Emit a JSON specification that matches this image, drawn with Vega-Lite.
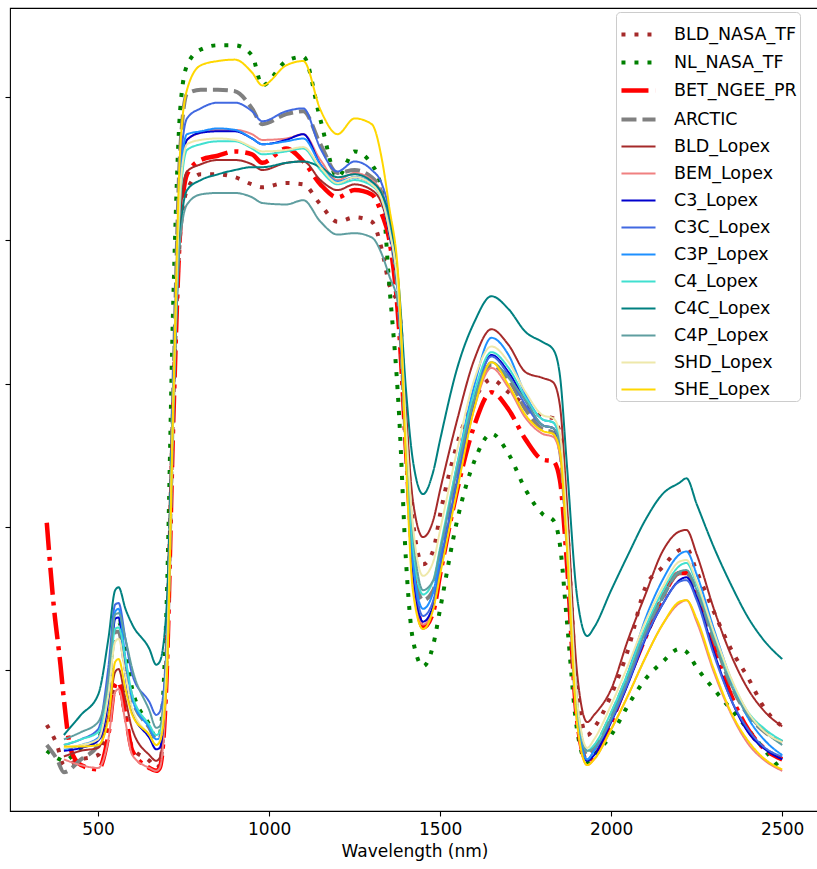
{
"$schema":"https://vega.github.io/schema/vega-lite/v6.json",
"width":809,"height":803,"autosize":"none",
"padding":{"left":10,"top":8,"right":0,"bottom":58},
"background":"white",
"config":{"font":"DejaVu Sans","view":{"stroke":"#000","strokeWidth":1.1},"axis":{"grid":false}},
"data":{"values":[
{"s":"BLD_NASA_TF","w":350,"r":0.062},{"s":"BLD_NASA_TF","w":380,"r":0.048},{"s":"BLD_NASA_TF","w":400,"r":0.034},{"s":"BLD_NASA_TF","w":450,"r":0.038},{"s":"BLD_NASA_TF","w":500,"r":0.041},{"s":"BLD_NASA_TF","w":530,"r":0.064},{"s":"BLD_NASA_TF","w":550,"r":0.087},{"s":"BLD_NASA_TF","w":560,"r":0.088},{"s":"BLD_NASA_TF","w":580,"r":0.069},{"s":"BLD_NASA_TF","w":600,"r":0.046},{"s":"BLD_NASA_TF","w":650,"r":0.037},{"s":"BLD_NASA_TF","w":670,"r":0.032},{"s":"BLD_NASA_TF","w":680,"r":0.034},{"s":"BLD_NASA_TF","w":700,"r":0.108},{"s":"BLD_NASA_TF","w":720,"r":0.289},{"s":"BLD_NASA_TF","w":740,"r":0.404},{"s":"BLD_NASA_TF","w":760,"r":0.435},{"s":"BLD_NASA_TF","w":800,"r":0.446},{"s":"BLD_NASA_TF","w":850,"r":0.446},{"s":"BLD_NASA_TF","w":900,"r":0.444},{"s":"BLD_NASA_TF","w":950,"r":0.439},{"s":"BLD_NASA_TF","w":980,"r":0.437},{"s":"BLD_NASA_TF","w":1050,"r":0.440},{"s":"BLD_NASA_TF","w":1100,"r":0.439},{"s":"BLD_NASA_TF","w":1150,"r":0.425},{"s":"BLD_NASA_TF","w":1200,"r":0.413},{"s":"BLD_NASA_TF","w":1250,"r":0.416},{"s":"BLD_NASA_TF","w":1300,"r":0.413},{"s":"BLD_NASA_TF","w":1330,"r":0.393},{"s":"BLD_NASA_TF","w":1350,"r":0.370},{"s":"BLD_NASA_TF","w":1380,"r":0.352},{"s":"BLD_NASA_TF","w":1400,"r":0.268},{"s":"BLD_NASA_TF","w":1420,"r":0.205},{"s":"BLD_NASA_TF","w":1450,"r":0.174},{"s":"BLD_NASA_TF","w":1480,"r":0.184},{"s":"BLD_NASA_TF","w":1500,"r":0.209},{"s":"BLD_NASA_TF","w":1550,"r":0.258},{"s":"BLD_NASA_TF","w":1600,"r":0.289},{"s":"BLD_NASA_TF","w":1650,"r":0.303},{"s":"BLD_NASA_TF","w":1700,"r":0.294},{"s":"BLD_NASA_TF","w":1750,"r":0.285},{"s":"BLD_NASA_TF","w":1800,"r":0.277},{"s":"BLD_NASA_TF","w":1830,"r":0.276},{"s":"BLD_NASA_TF","w":1850,"r":0.265},{"s":"BLD_NASA_TF","w":1870,"r":0.205},{"s":"BLD_NASA_TF","w":1900,"r":0.087},{"s":"BLD_NASA_TF","w":1930,"r":0.055},{"s":"BLD_NASA_TF","w":1950,"r":0.060},{"s":"BLD_NASA_TF","w":2000,"r":0.083},{"s":"BLD_NASA_TF","w":2050,"r":0.115},{"s":"BLD_NASA_TF","w":2100,"r":0.158},{"s":"BLD_NASA_TF","w":2150,"r":0.172},{"s":"BLD_NASA_TF","w":2200,"r":0.184},{"s":"BLD_NASA_TF","w":2220,"r":0.185},{"s":"BLD_NASA_TF","w":2250,"r":0.169},{"s":"BLD_NASA_TF","w":2300,"r":0.141},{"s":"BLD_NASA_TF","w":2350,"r":0.115},{"s":"BLD_NASA_TF","w":2400,"r":0.095},{"s":"BLD_NASA_TF","w":2450,"r":0.073},{"s":"BLD_NASA_TF","w":2500,"r":0.061},
{"s":"NL_NASA_TF","w":350,"r":0.044},{"s":"NL_NASA_TF","w":380,"r":0.039},{"s":"NL_NASA_TF","w":400,"r":0.037},{"s":"NL_NASA_TF","w":450,"r":0.046},{"s":"NL_NASA_TF","w":500,"r":0.052},{"s":"NL_NASA_TF","w":530,"r":0.087},{"s":"NL_NASA_TF","w":550,"r":0.132},{"s":"NL_NASA_TF","w":560,"r":0.134},{"s":"NL_NASA_TF","w":580,"r":0.113},{"s":"NL_NASA_TF","w":600,"r":0.087},{"s":"NL_NASA_TF","w":650,"r":0.062},{"s":"NL_NASA_TF","w":670,"r":0.053},{"s":"NL_NASA_TF","w":680,"r":0.055},{"s":"NL_NASA_TF","w":700,"r":0.143},{"s":"NL_NASA_TF","w":720,"r":0.359},{"s":"NL_NASA_TF","w":740,"r":0.491},{"s":"NL_NASA_TF","w":760,"r":0.522},{"s":"NL_NASA_TF","w":800,"r":0.533},{"s":"NL_NASA_TF","w":850,"r":0.536},{"s":"NL_NASA_TF","w":900,"r":0.536},{"s":"NL_NASA_TF","w":950,"r":0.529},{"s":"NL_NASA_TF","w":980,"r":0.508},{"s":"NL_NASA_TF","w":1050,"r":0.525},{"s":"NL_NASA_TF","w":1100,"r":0.528},{"s":"NL_NASA_TF","w":1150,"r":0.484},{"s":"NL_NASA_TF","w":1200,"r":0.444},{"s":"NL_NASA_TF","w":1250,"r":0.462},{"s":"NL_NASA_TF","w":1300,"r":0.453},{"s":"NL_NASA_TF","w":1330,"r":0.434},{"s":"NL_NASA_TF","w":1350,"r":0.373},{"s":"NL_NASA_TF","w":1380,"r":0.278},{"s":"NL_NASA_TF","w":1400,"r":0.177},{"s":"NL_NASA_TF","w":1420,"r":0.122},{"s":"NL_NASA_TF","w":1450,"r":0.103},{"s":"NL_NASA_TF","w":1480,"r":0.118},{"s":"NL_NASA_TF","w":1500,"r":0.143},{"s":"NL_NASA_TF","w":1550,"r":0.205},{"s":"NL_NASA_TF","w":1600,"r":0.246},{"s":"NL_NASA_TF","w":1650,"r":0.265},{"s":"NL_NASA_TF","w":1700,"r":0.251},{"s":"NL_NASA_TF","w":1750,"r":0.226},{"s":"NL_NASA_TF","w":1800,"r":0.209},{"s":"NL_NASA_TF","w":1830,"r":0.205},{"s":"NL_NASA_TF","w":1850,"r":0.188},{"s":"NL_NASA_TF","w":1870,"r":0.136},{"s":"NL_NASA_TF","w":1900,"r":0.059},{"s":"NL_NASA_TF","w":1930,"r":0.036},{"s":"NL_NASA_TF","w":1950,"r":0.041},{"s":"NL_NASA_TF","w":2000,"r":0.055},{"s":"NL_NASA_TF","w":2050,"r":0.076},{"s":"NL_NASA_TF","w":2100,"r":0.094},{"s":"NL_NASA_TF","w":2150,"r":0.106},{"s":"NL_NASA_TF","w":2200,"r":0.115},{"s":"NL_NASA_TF","w":2220,"r":0.113},{"s":"NL_NASA_TF","w":2250,"r":0.102},{"s":"NL_NASA_TF","w":2300,"r":0.087},{"s":"NL_NASA_TF","w":2350,"r":0.073},{"s":"NL_NASA_TF","w":2400,"r":0.059},{"s":"NL_NASA_TF","w":2450,"r":0.044},{"s":"NL_NASA_TF","w":2500,"r":0.030},
{"s":"BET_NGEE_PR","w":350,"r":0.203},{"s":"BET_NGEE_PR","w":370,"r":0.146},{"s":"BET_NGEE_PR","w":390,"r":0.104},{"s":"BET_NGEE_PR","w":400,"r":0.080},{"s":"BET_NGEE_PR","w":420,"r":0.045},{"s":"BET_NGEE_PR","w":450,"r":0.034},{"s":"BET_NGEE_PR","w":500,"r":0.031},{"s":"BET_NGEE_PR","w":530,"r":0.055},{"s":"BET_NGEE_PR","w":550,"r":0.090},{"s":"BET_NGEE_PR","w":560,"r":0.092},{"s":"BET_NGEE_PR","w":580,"r":0.069},{"s":"BET_NGEE_PR","w":600,"r":0.044},{"s":"BET_NGEE_PR","w":650,"r":0.032},{"s":"BET_NGEE_PR","w":670,"r":0.030},{"s":"BET_NGEE_PR","w":680,"r":0.032},{"s":"BET_NGEE_PR","w":700,"r":0.094},{"s":"BET_NGEE_PR","w":720,"r":0.275},{"s":"BET_NGEE_PR","w":740,"r":0.407},{"s":"BET_NGEE_PR","w":760,"r":0.446},{"s":"BET_NGEE_PR","w":800,"r":0.456},{"s":"BET_NGEE_PR","w":850,"r":0.459},{"s":"BET_NGEE_PR","w":900,"r":0.462},{"s":"BET_NGEE_PR","w":950,"r":0.460},{"s":"BET_NGEE_PR","w":980,"r":0.454},{"s":"BET_NGEE_PR","w":1050,"r":0.464},{"s":"BET_NGEE_PR","w":1100,"r":0.455},{"s":"BET_NGEE_PR","w":1150,"r":0.439},{"s":"BET_NGEE_PR","w":1200,"r":0.430},{"s":"BET_NGEE_PR","w":1250,"r":0.435},{"s":"BET_NGEE_PR","w":1300,"r":0.432},{"s":"BET_NGEE_PR","w":1330,"r":0.418},{"s":"BET_NGEE_PR","w":1350,"r":0.402},{"s":"BET_NGEE_PR","w":1380,"r":0.338},{"s":"BET_NGEE_PR","w":1400,"r":0.254},{"s":"BET_NGEE_PR","w":1420,"r":0.177},{"s":"BET_NGEE_PR","w":1450,"r":0.130},{"s":"BET_NGEE_PR","w":1480,"r":0.141},{"s":"BET_NGEE_PR","w":1500,"r":0.167},{"s":"BET_NGEE_PR","w":1550,"r":0.226},{"s":"BET_NGEE_PR","w":1600,"r":0.271},{"s":"BET_NGEE_PR","w":1650,"r":0.294},{"s":"BET_NGEE_PR","w":1700,"r":0.282},{"s":"BET_NGEE_PR","w":1750,"r":0.261},{"s":"BET_NGEE_PR","w":1800,"r":0.247},{"s":"BET_NGEE_PR","w":1830,"r":0.246},{"s":"BET_NGEE_PR","w":1850,"r":0.233},{"s":"BET_NGEE_PR","w":1870,"r":0.177},{"s":"BET_NGEE_PR","w":1900,"r":0.066},{"s":"BET_NGEE_PR","w":1930,"r":0.037},{"s":"BET_NGEE_PR","w":1950,"r":0.040},{"s":"BET_NGEE_PR","w":2000,"r":0.064},{"s":"BET_NGEE_PR","w":2050,"r":0.094},{"s":"BET_NGEE_PR","w":2100,"r":0.123},{"s":"BET_NGEE_PR","w":2150,"r":0.151},{"s":"BET_NGEE_PR","w":2200,"r":0.168},{"s":"BET_NGEE_PR","w":2220,"r":0.168},{"s":"BET_NGEE_PR","w":2250,"r":0.153},{"s":"BET_NGEE_PR","w":2300,"r":0.118},{"s":"BET_NGEE_PR","w":2350,"r":0.083},{"s":"BET_NGEE_PR","w":2400,"r":0.059},{"s":"BET_NGEE_PR","w":2450,"r":0.045},{"s":"BET_NGEE_PR","w":2500,"r":0.038},
{"s":"ARCTIC","w":350,"r":0.048},{"s":"ARCTIC","w":380,"r":0.038},{"s":"ARCTIC","w":400,"r":0.029},{"s":"ARCTIC","w":450,"r":0.038},{"s":"ARCTIC","w":500,"r":0.048},{"s":"ARCTIC","w":530,"r":0.087},{"s":"ARCTIC","w":550,"r":0.127},{"s":"ARCTIC","w":560,"r":0.127},{"s":"ARCTIC","w":580,"r":0.102},{"s":"ARCTIC","w":600,"r":0.080},{"s":"ARCTIC","w":650,"r":0.060},{"s":"ARCTIC","w":670,"r":0.052},{"s":"ARCTIC","w":680,"r":0.053},{"s":"ARCTIC","w":700,"r":0.108},{"s":"ARCTIC","w":720,"r":0.296},{"s":"ARCTIC","w":740,"r":0.463},{"s":"ARCTIC","w":760,"r":0.502},{"s":"ARCTIC","w":800,"r":0.505},{"s":"ARCTIC","w":850,"r":0.505},{"s":"ARCTIC","w":900,"r":0.504},{"s":"ARCTIC","w":950,"r":0.492},{"s":"ARCTIC","w":980,"r":0.481},{"s":"ARCTIC","w":1050,"r":0.488},{"s":"ARCTIC","w":1100,"r":0.490},{"s":"ARCTIC","w":1150,"r":0.467},{"s":"ARCTIC","w":1200,"r":0.447},{"s":"ARCTIC","w":1250,"r":0.449},{"s":"ARCTIC","w":1300,"r":0.444},{"s":"ARCTIC","w":1330,"r":0.432},{"s":"ARCTIC","w":1350,"r":0.409},{"s":"ARCTIC","w":1380,"r":0.352},{"s":"ARCTIC","w":1400,"r":0.258},{"s":"ARCTIC","w":1420,"r":0.177},{"s":"ARCTIC","w":1450,"r":0.149},{"s":"ARCTIC","w":1480,"r":0.156},{"s":"ARCTIC","w":1500,"r":0.177},{"s":"ARCTIC","w":1550,"r":0.235},{"s":"ARCTIC","w":1600,"r":0.288},{"s":"ARCTIC","w":1650,"r":0.313},{"s":"ARCTIC","w":1700,"r":0.303},{"s":"ARCTIC","w":1750,"r":0.282},{"s":"ARCTIC","w":1800,"r":0.268},{"s":"ARCTIC","w":1830,"r":0.266},{"s":"ARCTIC","w":1850,"r":0.254},{"s":"ARCTIC","w":1870,"r":0.195},{"s":"ARCTIC","w":1900,"r":0.071},{"s":"ARCTIC","w":1930,"r":0.041},{"s":"ARCTIC","w":1950,"r":0.046},{"s":"ARCTIC","w":2000,"r":0.069},{"s":"ARCTIC","w":2050,"r":0.097},{"s":"ARCTIC","w":2100,"r":0.127},{"s":"ARCTIC","w":2150,"r":0.151},{"s":"ARCTIC","w":2200,"r":0.168},{"s":"ARCTIC","w":2220,"r":0.168},{"s":"ARCTIC","w":2250,"r":0.154},{"s":"ARCTIC","w":2300,"r":0.122},{"s":"ARCTIC","w":2350,"r":0.090},{"s":"ARCTIC","w":2400,"r":0.069},{"s":"ARCTIC","w":2450,"r":0.057},{"s":"ARCTIC","w":2500,"r":0.050},
{"s":"BLD_Lopex","w":400,"r":0.040},{"s":"BLD_Lopex","w":450,"r":0.044},{"s":"BLD_Lopex","w":500,"r":0.046},{"s":"BLD_Lopex","w":530,"r":0.069},{"s":"BLD_Lopex","w":550,"r":0.099},{"s":"BLD_Lopex","w":560,"r":0.101},{"s":"BLD_Lopex","w":580,"r":0.080},{"s":"BLD_Lopex","w":600,"r":0.059},{"s":"BLD_Lopex","w":650,"r":0.041},{"s":"BLD_Lopex","w":670,"r":0.037},{"s":"BLD_Lopex","w":680,"r":0.039},{"s":"BLD_Lopex","w":700,"r":0.097},{"s":"BLD_Lopex","w":720,"r":0.282},{"s":"BLD_Lopex","w":740,"r":0.414},{"s":"BLD_Lopex","w":760,"r":0.448},{"s":"BLD_Lopex","w":800,"r":0.453},{"s":"BLD_Lopex","w":850,"r":0.456},{"s":"BLD_Lopex","w":900,"r":0.456},{"s":"BLD_Lopex","w":950,"r":0.453},{"s":"BLD_Lopex","w":980,"r":0.449},{"s":"BLD_Lopex","w":1050,"r":0.454},{"s":"BLD_Lopex","w":1100,"r":0.455},{"s":"BLD_Lopex","w":1150,"r":0.442},{"s":"BLD_Lopex","w":1200,"r":0.435},{"s":"BLD_Lopex","w":1250,"r":0.439},{"s":"BLD_Lopex","w":1300,"r":0.435},{"s":"BLD_Lopex","w":1330,"r":0.425},{"s":"BLD_Lopex","w":1350,"r":0.407},{"s":"BLD_Lopex","w":1380,"r":0.359},{"s":"BLD_Lopex","w":1400,"r":0.282},{"s":"BLD_Lopex","w":1420,"r":0.219},{"s":"BLD_Lopex","w":1450,"r":0.193},{"s":"BLD_Lopex","w":1480,"r":0.205},{"s":"BLD_Lopex","w":1500,"r":0.226},{"s":"BLD_Lopex","w":1550,"r":0.275},{"s":"BLD_Lopex","w":1600,"r":0.317},{"s":"BLD_Lopex","w":1650,"r":0.338},{"s":"BLD_Lopex","w":1700,"r":0.327},{"s":"BLD_Lopex","w":1750,"r":0.308},{"s":"BLD_Lopex","w":1800,"r":0.304},{"s":"BLD_Lopex","w":1830,"r":0.301},{"s":"BLD_Lopex","w":1850,"r":0.285},{"s":"BLD_Lopex","w":1870,"r":0.219},{"s":"BLD_Lopex","w":1900,"r":0.099},{"s":"BLD_Lopex","w":1930,"r":0.064},{"s":"BLD_Lopex","w":1950,"r":0.069},{"s":"BLD_Lopex","w":2000,"r":0.087},{"s":"BLD_Lopex","w":2050,"r":0.122},{"s":"BLD_Lopex","w":2100,"r":0.153},{"s":"BLD_Lopex","w":2150,"r":0.183},{"s":"BLD_Lopex","w":2200,"r":0.197},{"s":"BLD_Lopex","w":2220,"r":0.198},{"s":"BLD_Lopex","w":2250,"r":0.181},{"s":"BLD_Lopex","w":2300,"r":0.143},{"s":"BLD_Lopex","w":2350,"r":0.111},{"s":"BLD_Lopex","w":2400,"r":0.087},{"s":"BLD_Lopex","w":2450,"r":0.071},{"s":"BLD_Lopex","w":2500,"r":0.061},
{"s":"BEM_Lopex","w":400,"r":0.038},{"s":"BEM_Lopex","w":450,"r":0.034},{"s":"BEM_Lopex","w":500,"r":0.032},{"s":"BEM_Lopex","w":530,"r":0.052},{"s":"BEM_Lopex","w":550,"r":0.085},{"s":"BEM_Lopex","w":560,"r":0.087},{"s":"BEM_Lopex","w":580,"r":0.064},{"s":"BEM_Lopex","w":600,"r":0.041},{"s":"BEM_Lopex","w":650,"r":0.032},{"s":"BEM_Lopex","w":670,"r":0.030},{"s":"BEM_Lopex","w":680,"r":0.032},{"s":"BEM_Lopex","w":700,"r":0.092},{"s":"BEM_Lopex","w":720,"r":0.281},{"s":"BEM_Lopex","w":740,"r":0.428},{"s":"BEM_Lopex","w":760,"r":0.470},{"s":"BEM_Lopex","w":800,"r":0.475},{"s":"BEM_Lopex","w":850,"r":0.477},{"s":"BEM_Lopex","w":900,"r":0.477},{"s":"BEM_Lopex","w":950,"r":0.474},{"s":"BEM_Lopex","w":980,"r":0.470},{"s":"BEM_Lopex","w":1050,"r":0.471},{"s":"BEM_Lopex","w":1100,"r":0.474},{"s":"BEM_Lopex","w":1150,"r":0.456},{"s":"BEM_Lopex","w":1200,"r":0.442},{"s":"BEM_Lopex","w":1250,"r":0.447},{"s":"BEM_Lopex","w":1300,"r":0.442},{"s":"BEM_Lopex","w":1330,"r":0.432},{"s":"BEM_Lopex","w":1350,"r":0.411},{"s":"BEM_Lopex","w":1380,"r":0.355},{"s":"BEM_Lopex","w":1400,"r":0.254},{"s":"BEM_Lopex","w":1420,"r":0.167},{"s":"BEM_Lopex","w":1450,"r":0.132},{"s":"BEM_Lopex","w":1480,"r":0.144},{"s":"BEM_Lopex","w":1500,"r":0.169},{"s":"BEM_Lopex","w":1550,"r":0.228},{"s":"BEM_Lopex","w":1600,"r":0.283},{"s":"BEM_Lopex","w":1650,"r":0.311},{"s":"BEM_Lopex","w":1700,"r":0.297},{"s":"BEM_Lopex","w":1750,"r":0.276},{"s":"BEM_Lopex","w":1800,"r":0.265},{"s":"BEM_Lopex","w":1830,"r":0.263},{"s":"BEM_Lopex","w":1850,"r":0.251},{"s":"BEM_Lopex","w":1870,"r":0.188},{"s":"BEM_Lopex","w":1900,"r":0.064},{"s":"BEM_Lopex","w":1930,"r":0.034},{"s":"BEM_Lopex","w":1950,"r":0.038},{"s":"BEM_Lopex","w":2000,"r":0.059},{"s":"BEM_Lopex","w":2050,"r":0.083},{"s":"BEM_Lopex","w":2100,"r":0.109},{"s":"BEM_Lopex","w":2150,"r":0.132},{"s":"BEM_Lopex","w":2200,"r":0.147},{"s":"BEM_Lopex","w":2220,"r":0.149},{"s":"BEM_Lopex","w":2250,"r":0.134},{"s":"BEM_Lopex","w":2300,"r":0.099},{"s":"BEM_Lopex","w":2350,"r":0.070},{"s":"BEM_Lopex","w":2400,"r":0.049},{"s":"BEM_Lopex","w":2450,"r":0.037},{"s":"BEM_Lopex","w":2500,"r":0.030},
{"s":"C3_Lopex","w":400,"r":0.044},{"s":"C3_Lopex","w":450,"r":0.046},{"s":"C3_Lopex","w":500,"r":0.051},{"s":"C3_Lopex","w":530,"r":0.080},{"s":"C3_Lopex","w":550,"r":0.136},{"s":"C3_Lopex","w":560,"r":0.137},{"s":"C3_Lopex","w":580,"r":0.097},{"s":"C3_Lopex","w":600,"r":0.071},{"s":"C3_Lopex","w":650,"r":0.053},{"s":"C3_Lopex","w":670,"r":0.045},{"s":"C3_Lopex","w":680,"r":0.046},{"s":"C3_Lopex","w":700,"r":0.099},{"s":"C3_Lopex","w":720,"r":0.289},{"s":"C3_Lopex","w":740,"r":0.435},{"s":"C3_Lopex","w":760,"r":0.470},{"s":"C3_Lopex","w":800,"r":0.475},{"s":"C3_Lopex","w":850,"r":0.476},{"s":"C3_Lopex","w":900,"r":0.476},{"s":"C3_Lopex","w":950,"r":0.471},{"s":"C3_Lopex","w":980,"r":0.467},{"s":"C3_Lopex","w":1050,"r":0.470},{"s":"C3_Lopex","w":1100,"r":0.474},{"s":"C3_Lopex","w":1150,"r":0.453},{"s":"C3_Lopex","w":1200,"r":0.440},{"s":"C3_Lopex","w":1250,"r":0.444},{"s":"C3_Lopex","w":1300,"r":0.439},{"s":"C3_Lopex","w":1330,"r":0.428},{"s":"C3_Lopex","w":1350,"r":0.407},{"s":"C3_Lopex","w":1380,"r":0.353},{"s":"C3_Lopex","w":1400,"r":0.258},{"s":"C3_Lopex","w":1420,"r":0.172},{"s":"C3_Lopex","w":1450,"r":0.134},{"s":"C3_Lopex","w":1480,"r":0.146},{"s":"C3_Lopex","w":1500,"r":0.172},{"s":"C3_Lopex","w":1550,"r":0.232},{"s":"C3_Lopex","w":1600,"r":0.288},{"s":"C3_Lopex","w":1650,"r":0.320},{"s":"C3_Lopex","w":1700,"r":0.308},{"s":"C3_Lopex","w":1750,"r":0.288},{"s":"C3_Lopex","w":1800,"r":0.271},{"s":"C3_Lopex","w":1830,"r":0.269},{"s":"C3_Lopex","w":1850,"r":0.256},{"s":"C3_Lopex","w":1870,"r":0.195},{"s":"C3_Lopex","w":1900,"r":0.069},{"s":"C3_Lopex","w":1930,"r":0.037},{"s":"C3_Lopex","w":1950,"r":0.041},{"s":"C3_Lopex","w":2000,"r":0.064},{"s":"C3_Lopex","w":2050,"r":0.091},{"s":"C3_Lopex","w":2100,"r":0.122},{"s":"C3_Lopex","w":2150,"r":0.146},{"s":"C3_Lopex","w":2200,"r":0.163},{"s":"C3_Lopex","w":2220,"r":0.165},{"s":"C3_Lopex","w":2250,"r":0.151},{"s":"C3_Lopex","w":2300,"r":0.113},{"s":"C3_Lopex","w":2350,"r":0.080},{"s":"C3_Lopex","w":2400,"r":0.057},{"s":"C3_Lopex","w":2450,"r":0.045},{"s":"C3_Lopex","w":2500,"r":0.038},
{"s":"C3C_Lopex","w":400,"r":0.048},{"s":"C3C_Lopex","w":450,"r":0.052},{"s":"C3C_Lopex","w":500,"r":0.059},{"s":"C3C_Lopex","w":530,"r":0.102},{"s":"C3C_Lopex","w":550,"r":0.146},{"s":"C3C_Lopex","w":560,"r":0.147},{"s":"C3C_Lopex","w":580,"r":0.122},{"s":"C3C_Lopex","w":600,"r":0.097},{"s":"C3C_Lopex","w":650,"r":0.078},{"s":"C3C_Lopex","w":670,"r":0.069},{"s":"C3C_Lopex","w":680,"r":0.071},{"s":"C3C_Lopex","w":700,"r":0.111},{"s":"C3C_Lopex","w":720,"r":0.300},{"s":"C3C_Lopex","w":740,"r":0.449},{"s":"C3C_Lopex","w":760,"r":0.485},{"s":"C3C_Lopex","w":800,"r":0.492},{"s":"C3C_Lopex","w":850,"r":0.496},{"s":"C3C_Lopex","w":900,"r":0.496},{"s":"C3C_Lopex","w":950,"r":0.490},{"s":"C3C_Lopex","w":980,"r":0.483},{"s":"C3C_Lopex","w":1050,"r":0.490},{"s":"C3C_Lopex","w":1100,"r":0.492},{"s":"C3C_Lopex","w":1150,"r":0.464},{"s":"C3C_Lopex","w":1200,"r":0.448},{"s":"C3C_Lopex","w":1250,"r":0.455},{"s":"C3C_Lopex","w":1300,"r":0.449},{"s":"C3C_Lopex","w":1330,"r":0.439},{"s":"C3C_Lopex","w":1350,"r":0.421},{"s":"C3C_Lopex","w":1380,"r":0.355},{"s":"C3C_Lopex","w":1400,"r":0.261},{"s":"C3C_Lopex","w":1420,"r":0.177},{"s":"C3C_Lopex","w":1450,"r":0.138},{"s":"C3C_Lopex","w":1480,"r":0.149},{"s":"C3C_Lopex","w":1500,"r":0.174},{"s":"C3C_Lopex","w":1550,"r":0.233},{"s":"C3C_Lopex","w":1600,"r":0.289},{"s":"C3C_Lopex","w":1650,"r":0.319},{"s":"C3C_Lopex","w":1700,"r":0.306},{"s":"C3C_Lopex","w":1750,"r":0.285},{"s":"C3C_Lopex","w":1800,"r":0.271},{"s":"C3C_Lopex","w":1830,"r":0.269},{"s":"C3C_Lopex","w":1850,"r":0.258},{"s":"C3C_Lopex","w":1870,"r":0.195},{"s":"C3C_Lopex","w":1900,"r":0.069},{"s":"C3C_Lopex","w":1930,"r":0.038},{"s":"C3C_Lopex","w":1950,"r":0.044},{"s":"C3C_Lopex","w":2000,"r":0.065},{"s":"C3C_Lopex","w":2050,"r":0.092},{"s":"C3C_Lopex","w":2100,"r":0.123},{"s":"C3C_Lopex","w":2150,"r":0.146},{"s":"C3C_Lopex","w":2200,"r":0.162},{"s":"C3C_Lopex","w":2220,"r":0.163},{"s":"C3C_Lopex","w":2250,"r":0.149},{"s":"C3C_Lopex","w":2300,"r":0.111},{"s":"C3C_Lopex","w":2350,"r":0.080},{"s":"C3C_Lopex","w":2400,"r":0.059},{"s":"C3C_Lopex","w":2450,"r":0.046},{"s":"C3C_Lopex","w":2500,"r":0.040},
{"s":"C3P_Lopex","w":400,"r":0.045},{"s":"C3P_Lopex","w":450,"r":0.048},{"s":"C3P_Lopex","w":500,"r":0.053},{"s":"C3P_Lopex","w":530,"r":0.088},{"s":"C3P_Lopex","w":550,"r":0.141},{"s":"C3P_Lopex","w":560,"r":0.143},{"s":"C3P_Lopex","w":580,"r":0.108},{"s":"C3P_Lopex","w":600,"r":0.080},{"s":"C3P_Lopex","w":650,"r":0.060},{"s":"C3P_Lopex","w":670,"r":0.052},{"s":"C3P_Lopex","w":680,"r":0.053},{"s":"C3P_Lopex","w":700,"r":0.106},{"s":"C3P_Lopex","w":720,"r":0.294},{"s":"C3P_Lopex","w":740,"r":0.442},{"s":"C3P_Lopex","w":760,"r":0.474},{"s":"C3P_Lopex","w":800,"r":0.476},{"s":"C3P_Lopex","w":850,"r":0.478},{"s":"C3P_Lopex","w":900,"r":0.477},{"s":"C3P_Lopex","w":950,"r":0.471},{"s":"C3P_Lopex","w":980,"r":0.467},{"s":"C3P_Lopex","w":1050,"r":0.469},{"s":"C3P_Lopex","w":1100,"r":0.471},{"s":"C3P_Lopex","w":1150,"r":0.453},{"s":"C3P_Lopex","w":1200,"r":0.441},{"s":"C3P_Lopex","w":1250,"r":0.444},{"s":"C3P_Lopex","w":1300,"r":0.440},{"s":"C3P_Lopex","w":1330,"r":0.430},{"s":"C3P_Lopex","w":1350,"r":0.411},{"s":"C3P_Lopex","w":1380,"r":0.355},{"s":"C3P_Lopex","w":1400,"r":0.261},{"s":"C3P_Lopex","w":1420,"r":0.177},{"s":"C3P_Lopex","w":1450,"r":0.143},{"s":"C3P_Lopex","w":1480,"r":0.155},{"s":"C3P_Lopex","w":1500,"r":0.181},{"s":"C3P_Lopex","w":1550,"r":0.244},{"s":"C3P_Lopex","w":1600,"r":0.299},{"s":"C3P_Lopex","w":1650,"r":0.332},{"s":"C3P_Lopex","w":1700,"r":0.320},{"s":"C3P_Lopex","w":1750,"r":0.292},{"s":"C3P_Lopex","w":1800,"r":0.275},{"s":"C3P_Lopex","w":1830,"r":0.273},{"s":"C3P_Lopex","w":1850,"r":0.261},{"s":"C3P_Lopex","w":1870,"r":0.198},{"s":"C3P_Lopex","w":1900,"r":0.071},{"s":"C3P_Lopex","w":1930,"r":0.038},{"s":"C3P_Lopex","w":1950,"r":0.044},{"s":"C3P_Lopex","w":2000,"r":0.067},{"s":"C3P_Lopex","w":2050,"r":0.099},{"s":"C3P_Lopex","w":2100,"r":0.136},{"s":"C3P_Lopex","w":2150,"r":0.163},{"s":"C3P_Lopex","w":2200,"r":0.181},{"s":"C3P_Lopex","w":2220,"r":0.183},{"s":"C3P_Lopex","w":2250,"r":0.167},{"s":"C3P_Lopex","w":2300,"r":0.129},{"s":"C3P_Lopex","w":2350,"r":0.094},{"s":"C3P_Lopex","w":2400,"r":0.067},{"s":"C3P_Lopex","w":2450,"r":0.051},{"s":"C3P_Lopex","w":2500,"r":0.041},
{"s":"C4_Lopex","w":400,"r":0.048},{"s":"C4_Lopex","w":450,"r":0.052},{"s":"C4_Lopex","w":500,"r":0.057},{"s":"C4_Lopex","w":530,"r":0.088},{"s":"C4_Lopex","w":550,"r":0.129},{"s":"C4_Lopex","w":560,"r":0.130},{"s":"C4_Lopex","w":580,"r":0.108},{"s":"C4_Lopex","w":600,"r":0.083},{"s":"C4_Lopex","w":650,"r":0.062},{"s":"C4_Lopex","w":670,"r":0.055},{"s":"C4_Lopex","w":680,"r":0.057},{"s":"C4_Lopex","w":700,"r":0.106},{"s":"C4_Lopex","w":720,"r":0.289},{"s":"C4_Lopex","w":740,"r":0.428},{"s":"C4_Lopex","w":760,"r":0.463},{"s":"C4_Lopex","w":800,"r":0.467},{"s":"C4_Lopex","w":850,"r":0.469},{"s":"C4_Lopex","w":900,"r":0.469},{"s":"C4_Lopex","w":950,"r":0.464},{"s":"C4_Lopex","w":980,"r":0.460},{"s":"C4_Lopex","w":1050,"r":0.462},{"s":"C4_Lopex","w":1100,"r":0.464},{"s":"C4_Lopex","w":1150,"r":0.449},{"s":"C4_Lopex","w":1200,"r":0.439},{"s":"C4_Lopex","w":1250,"r":0.442},{"s":"C4_Lopex","w":1300,"r":0.438},{"s":"C4_Lopex","w":1330,"r":0.428},{"s":"C4_Lopex","w":1350,"r":0.409},{"s":"C4_Lopex","w":1380,"r":0.355},{"s":"C4_Lopex","w":1400,"r":0.265},{"s":"C4_Lopex","w":1420,"r":0.188},{"s":"C4_Lopex","w":1450,"r":0.153},{"s":"C4_Lopex","w":1480,"r":0.163},{"s":"C4_Lopex","w":1500,"r":0.186},{"s":"C4_Lopex","w":1550,"r":0.244},{"s":"C4_Lopex","w":1600,"r":0.294},{"s":"C4_Lopex","w":1650,"r":0.322},{"s":"C4_Lopex","w":1700,"r":0.311},{"s":"C4_Lopex","w":1750,"r":0.290},{"s":"C4_Lopex","w":1800,"r":0.275},{"s":"C4_Lopex","w":1830,"r":0.273},{"s":"C4_Lopex","w":1850,"r":0.261},{"s":"C4_Lopex","w":1870,"r":0.200},{"s":"C4_Lopex","w":1900,"r":0.076},{"s":"C4_Lopex","w":1930,"r":0.044},{"s":"C4_Lopex","w":1950,"r":0.048},{"s":"C4_Lopex","w":2000,"r":0.071},{"s":"C4_Lopex","w":2050,"r":0.099},{"s":"C4_Lopex","w":2100,"r":0.130},{"s":"C4_Lopex","w":2150,"r":0.155},{"s":"C4_Lopex","w":2200,"r":0.173},{"s":"C4_Lopex","w":2220,"r":0.175},{"s":"C4_Lopex","w":2250,"r":0.160},{"s":"C4_Lopex","w":2300,"r":0.125},{"s":"C4_Lopex","w":2350,"r":0.094},{"s":"C4_Lopex","w":2400,"r":0.071},{"s":"C4_Lopex","w":2450,"r":0.059},{"s":"C4_Lopex","w":2500,"r":0.051},
{"s":"C4C_Lopex","w":400,"r":0.055},{"s":"C4C_Lopex","w":450,"r":0.069},{"s":"C4C_Lopex","w":500,"r":0.083},{"s":"C4C_Lopex","w":530,"r":0.122},{"s":"C4C_Lopex","w":550,"r":0.156},{"s":"C4C_Lopex","w":560,"r":0.158},{"s":"C4C_Lopex","w":580,"r":0.143},{"s":"C4C_Lopex","w":600,"r":0.132},{"s":"C4C_Lopex","w":650,"r":0.115},{"s":"C4C_Lopex","w":670,"r":0.104},{"s":"C4C_Lopex","w":680,"r":0.106},{"s":"C4C_Lopex","w":700,"r":0.143},{"s":"C4C_Lopex","w":720,"r":0.289},{"s":"C4C_Lopex","w":740,"r":0.404},{"s":"C4C_Lopex","w":760,"r":0.435},{"s":"C4C_Lopex","w":800,"r":0.442},{"s":"C4C_Lopex","w":850,"r":0.446},{"s":"C4C_Lopex","w":900,"r":0.449},{"s":"C4C_Lopex","w":950,"r":0.451},{"s":"C4C_Lopex","w":980,"r":0.451},{"s":"C4C_Lopex","w":1050,"r":0.454},{"s":"C4C_Lopex","w":1100,"r":0.455},{"s":"C4C_Lopex","w":1150,"r":0.451},{"s":"C4C_Lopex","w":1200,"r":0.444},{"s":"C4C_Lopex","w":1250,"r":0.446},{"s":"C4C_Lopex","w":1300,"r":0.441},{"s":"C4C_Lopex","w":1330,"r":0.432},{"s":"C4C_Lopex","w":1350,"r":0.418},{"s":"C4C_Lopex","w":1380,"r":0.366},{"s":"C4C_Lopex","w":1400,"r":0.296},{"s":"C4C_Lopex","w":1420,"r":0.247},{"s":"C4C_Lopex","w":1450,"r":0.223},{"s":"C4C_Lopex","w":1480,"r":0.239},{"s":"C4C_Lopex","w":1500,"r":0.261},{"s":"C4C_Lopex","w":1550,"r":0.311},{"s":"C4C_Lopex","w":1600,"r":0.343},{"s":"C4C_Lopex","w":1650,"r":0.361},{"s":"C4C_Lopex","w":1700,"r":0.352},{"s":"C4C_Lopex","w":1750,"r":0.336},{"s":"C4C_Lopex","w":1800,"r":0.329},{"s":"C4C_Lopex","w":1830,"r":0.324},{"s":"C4C_Lopex","w":1850,"r":0.306},{"s":"C4C_Lopex","w":1870,"r":0.245},{"s":"C4C_Lopex","w":1900,"r":0.152},{"s":"C4C_Lopex","w":1930,"r":0.124},{"s":"C4C_Lopex","w":1950,"r":0.130},{"s":"C4C_Lopex","w":2000,"r":0.156},{"s":"C4C_Lopex","w":2050,"r":0.181},{"s":"C4C_Lopex","w":2100,"r":0.205},{"s":"C4C_Lopex","w":2150,"r":0.223},{"s":"C4C_Lopex","w":2200,"r":0.231},{"s":"C4C_Lopex","w":2220,"r":0.234},{"s":"C4C_Lopex","w":2250,"r":0.216},{"s":"C4C_Lopex","w":2300,"r":0.186},{"s":"C4C_Lopex","w":2350,"r":0.160},{"s":"C4C_Lopex","w":2400,"r":0.137},{"s":"C4C_Lopex","w":2450,"r":0.120},{"s":"C4C_Lopex","w":2500,"r":0.108},
{"s":"C4P_Lopex","w":400,"r":0.052},{"s":"C4P_Lopex","w":450,"r":0.057},{"s":"C4P_Lopex","w":500,"r":0.064},{"s":"C4P_Lopex","w":530,"r":0.094},{"s":"C4P_Lopex","w":550,"r":0.139},{"s":"C4P_Lopex","w":560,"r":0.140},{"s":"C4P_Lopex","w":580,"r":0.122},{"s":"C4P_Lopex","w":600,"r":0.101},{"s":"C4P_Lopex","w":650,"r":0.072},{"s":"C4P_Lopex","w":670,"r":0.060},{"s":"C4P_Lopex","w":680,"r":0.061},{"s":"C4P_Lopex","w":700,"r":0.104},{"s":"C4P_Lopex","w":720,"r":0.282},{"s":"C4P_Lopex","w":740,"r":0.400},{"s":"C4P_Lopex","w":760,"r":0.425},{"s":"C4P_Lopex","w":800,"r":0.432},{"s":"C4P_Lopex","w":850,"r":0.433},{"s":"C4P_Lopex","w":900,"r":0.433},{"s":"C4P_Lopex","w":950,"r":0.430},{"s":"C4P_Lopex","w":980,"r":0.426},{"s":"C4P_Lopex","w":1050,"r":0.425},{"s":"C4P_Lopex","w":1100,"r":0.428},{"s":"C4P_Lopex","w":1150,"r":0.413},{"s":"C4P_Lopex","w":1200,"r":0.404},{"s":"C4P_Lopex","w":1250,"r":0.405},{"s":"C4P_Lopex","w":1300,"r":0.402},{"s":"C4P_Lopex","w":1330,"r":0.390},{"s":"C4P_Lopex","w":1350,"r":0.376},{"s":"C4P_Lopex","w":1380,"r":0.352},{"s":"C4P_Lopex","w":1400,"r":0.268},{"s":"C4P_Lopex","w":1420,"r":0.198},{"s":"C4P_Lopex","w":1450,"r":0.156},{"s":"C4P_Lopex","w":1480,"r":0.163},{"s":"C4P_Lopex","w":1500,"r":0.184},{"s":"C4P_Lopex","w":1550,"r":0.240},{"s":"C4P_Lopex","w":1600,"r":0.289},{"s":"C4P_Lopex","w":1650,"r":0.315},{"s":"C4P_Lopex","w":1700,"r":0.304},{"s":"C4P_Lopex","w":1750,"r":0.288},{"s":"C4P_Lopex","w":1800,"r":0.271},{"s":"C4P_Lopex","w":1830,"r":0.269},{"s":"C4P_Lopex","w":1850,"r":0.258},{"s":"C4P_Lopex","w":1870,"r":0.198},{"s":"C4P_Lopex","w":1900,"r":0.080},{"s":"C4P_Lopex","w":1930,"r":0.044},{"s":"C4P_Lopex","w":1950,"r":0.046},{"s":"C4P_Lopex","w":2000,"r":0.067},{"s":"C4P_Lopex","w":2050,"r":0.095},{"s":"C4P_Lopex","w":2100,"r":0.127},{"s":"C4P_Lopex","w":2150,"r":0.151},{"s":"C4P_Lopex","w":2200,"r":0.169},{"s":"C4P_Lopex","w":2220,"r":0.170},{"s":"C4P_Lopex","w":2250,"r":0.156},{"s":"C4P_Lopex","w":2300,"r":0.122},{"s":"C4P_Lopex","w":2350,"r":0.090},{"s":"C4P_Lopex","w":2400,"r":0.069},{"s":"C4P_Lopex","w":2450,"r":0.057},{"s":"C4P_Lopex","w":2500,"r":0.048},
{"s":"SHD_Lopex","w":400,"r":0.046},{"s":"SHD_Lopex","w":450,"r":0.048},{"s":"SHD_Lopex","w":500,"r":0.052},{"s":"SHD_Lopex","w":530,"r":0.083},{"s":"SHD_Lopex","w":550,"r":0.120},{"s":"SHD_Lopex","w":560,"r":0.122},{"s":"SHD_Lopex","w":580,"r":0.097},{"s":"SHD_Lopex","w":600,"r":0.073},{"s":"SHD_Lopex","w":650,"r":0.055},{"s":"SHD_Lopex","w":670,"r":0.048},{"s":"SHD_Lopex","w":680,"r":0.051},{"s":"SHD_Lopex","w":700,"r":0.102},{"s":"SHD_Lopex","w":720,"r":0.289},{"s":"SHD_Lopex","w":740,"r":0.435},{"s":"SHD_Lopex","w":760,"r":0.467},{"s":"SHD_Lopex","w":800,"r":0.470},{"s":"SHD_Lopex","w":850,"r":0.471},{"s":"SHD_Lopex","w":900,"r":0.470},{"s":"SHD_Lopex","w":950,"r":0.465},{"s":"SHD_Lopex","w":980,"r":0.462},{"s":"SHD_Lopex","w":1050,"r":0.463},{"s":"SHD_Lopex","w":1100,"r":0.465},{"s":"SHD_Lopex","w":1150,"r":0.451},{"s":"SHD_Lopex","w":1200,"r":0.440},{"s":"SHD_Lopex","w":1250,"r":0.444},{"s":"SHD_Lopex","w":1300,"r":0.439},{"s":"SHD_Lopex","w":1330,"r":0.428},{"s":"SHD_Lopex","w":1350,"r":0.409},{"s":"SHD_Lopex","w":1380,"r":0.357},{"s":"SHD_Lopex","w":1400,"r":0.271},{"s":"SHD_Lopex","w":1420,"r":0.202},{"s":"SHD_Lopex","w":1450,"r":0.166},{"s":"SHD_Lopex","w":1480,"r":0.176},{"s":"SHD_Lopex","w":1500,"r":0.198},{"s":"SHD_Lopex","w":1550,"r":0.254},{"s":"SHD_Lopex","w":1600,"r":0.303},{"s":"SHD_Lopex","w":1650,"r":0.326},{"s":"SHD_Lopex","w":1700,"r":0.315},{"s":"SHD_Lopex","w":1750,"r":0.294},{"s":"SHD_Lopex","w":1800,"r":0.278},{"s":"SHD_Lopex","w":1830,"r":0.276},{"s":"SHD_Lopex","w":1850,"r":0.265},{"s":"SHD_Lopex","w":1870,"r":0.204},{"s":"SHD_Lopex","w":1900,"r":0.080},{"s":"SHD_Lopex","w":1930,"r":0.046},{"s":"SHD_Lopex","w":1950,"r":0.052},{"s":"SHD_Lopex","w":2000,"r":0.076},{"s":"SHD_Lopex","w":2050,"r":0.104},{"s":"SHD_Lopex","w":2100,"r":0.134},{"s":"SHD_Lopex","w":2150,"r":0.158},{"s":"SHD_Lopex","w":2200,"r":0.176},{"s":"SHD_Lopex","w":2220,"r":0.177},{"s":"SHD_Lopex","w":2250,"r":0.162},{"s":"SHD_Lopex","w":2300,"r":0.127},{"s":"SHD_Lopex","w":2350,"r":0.095},{"s":"SHD_Lopex","w":2400,"r":0.071},{"s":"SHD_Lopex","w":2450,"r":0.057},{"s":"SHD_Lopex","w":2500,"r":0.050},
{"s":"SHE_Lopex","w":400,"r":0.047},{"s":"SHE_Lopex","w":450,"r":0.047},{"s":"SHE_Lopex","w":500,"r":0.048},{"s":"SHE_Lopex","w":530,"r":0.066},{"s":"SHE_Lopex","w":550,"r":0.106},{"s":"SHE_Lopex","w":560,"r":0.108},{"s":"SHE_Lopex","w":580,"r":0.087},{"s":"SHE_Lopex","w":600,"r":0.069},{"s":"SHE_Lopex","w":650,"r":0.055},{"s":"SHE_Lopex","w":670,"r":0.048},{"s":"SHE_Lopex","w":680,"r":0.050},{"s":"SHE_Lopex","w":700,"r":0.090},{"s":"SHE_Lopex","w":720,"r":0.289},{"s":"SHE_Lopex","w":740,"r":0.463},{"s":"SHE_Lopex","w":760,"r":0.505},{"s":"SHE_Lopex","w":800,"r":0.522},{"s":"SHE_Lopex","w":850,"r":0.525},{"s":"SHE_Lopex","w":900,"r":0.526},{"s":"SHE_Lopex","w":950,"r":0.517},{"s":"SHE_Lopex","w":980,"r":0.508},{"s":"SHE_Lopex","w":1050,"r":0.522},{"s":"SHE_Lopex","w":1100,"r":0.525},{"s":"SHE_Lopex","w":1150,"r":0.491},{"s":"SHE_Lopex","w":1200,"r":0.474},{"s":"SHE_Lopex","w":1250,"r":0.485},{"s":"SHE_Lopex","w":1300,"r":0.481},{"s":"SHE_Lopex","w":1330,"r":0.456},{"s":"SHE_Lopex","w":1350,"r":0.425},{"s":"SHE_Lopex","w":1380,"r":0.366},{"s":"SHE_Lopex","w":1400,"r":0.247},{"s":"SHE_Lopex","w":1420,"r":0.156},{"s":"SHE_Lopex","w":1450,"r":0.129},{"s":"SHE_Lopex","w":1480,"r":0.143},{"s":"SHE_Lopex","w":1500,"r":0.167},{"s":"SHE_Lopex","w":1550,"r":0.226},{"s":"SHE_Lopex","w":1600,"r":0.283},{"s":"SHE_Lopex","w":1650,"r":0.315},{"s":"SHE_Lopex","w":1700,"r":0.299},{"s":"SHE_Lopex","w":1750,"r":0.278},{"s":"SHE_Lopex","w":1800,"r":0.267},{"s":"SHE_Lopex","w":1830,"r":0.265},{"s":"SHE_Lopex","w":1850,"r":0.253},{"s":"SHE_Lopex","w":1870,"r":0.188},{"s":"SHE_Lopex","w":1900,"r":0.064},{"s":"SHE_Lopex","w":1930,"r":0.034},{"s":"SHE_Lopex","w":1950,"r":0.038},{"s":"SHE_Lopex","w":2000,"r":0.059},{"s":"SHE_Lopex","w":2050,"r":0.083},{"s":"SHE_Lopex","w":2100,"r":0.109},{"s":"SHE_Lopex","w":2150,"r":0.132},{"s":"SHE_Lopex","w":2200,"r":0.148},{"s":"SHE_Lopex","w":2220,"r":0.149},{"s":"SHE_Lopex","w":2250,"r":0.136},{"s":"SHE_Lopex","w":2300,"r":0.101},{"s":"SHE_Lopex","w":2350,"r":0.071},{"s":"SHE_Lopex","w":2400,"r":0.051},{"s":"SHE_Lopex","w":2450,"r":0.038},{"s":"SHE_Lopex","w":2500,"r":0.031}
]},
"mark":{"type":"line","interpolate":"monotone"},
"encoding":{
"x":{"field":"w","type":"quantitative","scale":{"domain":[242.5,2607.5],"nice":false,"zero":false},"axis":{"title":"Wavelength (nm)","values":[500,1000,1500,2000,2500],"format":"d","labelFontSize":17,"titleFontSize":17,"titleFontWeight":"normal","tickSize":5,"tickColor":"#000","tickWidth":1.1,"labelColor":"#000","titleColor":"#000","domain":false,"labelPadding":5,"titlePadding":6,"labelFlush":false}},
"y":{"field":"r","type":"quantitative","scale":{"domain":[0.002,0.562],"nice":false,"zero":false},"axis":{"title":null,"values":[0.1,0.2,0.3,0.4,0.5],"labels":false,"tickSize":5,"tickColor":"#000","tickWidth":1.1,"domain":false}},
"color":{"field":"s","type":"nominal","scale":{"domain":["BLD_NASA_TF","NL_NASA_TF","BET_NGEE_PR","ARCTIC","BLD_Lopex","BEM_Lopex","C3_Lopex","C3C_Lopex","C3P_Lopex","C4_Lopex","C4C_Lopex","C4P_Lopex","SHD_Lopex","SHE_Lopex"],"range":["#a52a2a","#008000","#ff0000","#808080","#a52a2a","#f08080","#0000cd","#4169e1","#1e90ff","#40e0d0","#008080","#5f9ea0","#eee8aa","#ffd700"]},
"legend":{"title":null,"orient":"none","legendX":606,"legendY":4,"symbolType":"stroke","symbolSize":1160,"labelFontSize":17.5,"labelColor":"#000","labelOffset":16,"rowPadding":0,"padding":3,"fillColor":"white","strokeColor":"#cccccc","cornerRadius":4,"labelLimit":300}},
"strokeDash":{"field":"s","type":"nominal","scale":{"domain":["BLD_NASA_TF","NL_NASA_TF","BET_NGEE_PR","ARCTIC","BLD_Lopex","BEM_Lopex","C3_Lopex","C3C_Lopex","C3P_Lopex","C4_Lopex","C4C_Lopex","C4P_Lopex","SHD_Lopex","SHE_Lopex"],"range":[[4,9],[4,9],[27,7,4,7],[15,6],[1,0],[1,0],[1,0],[1,0],[1,0],[1,0],[1,0],[1,0],[1,0],[1,0]]},
"legend":{"title":null,"orient":"none","legendX":606,"legendY":4,"symbolType":"stroke","symbolSize":1160,"labelFontSize":17.5,"labelColor":"#000","labelOffset":16,"rowPadding":0,"padding":3,"fillColor":"white","strokeColor":"#cccccc","cornerRadius":4,"labelLimit":300}},
"strokeWidth":{"field":"s","type":"nominal","scale":{"type":"ordinal","domain":["BLD_NASA_TF","NL_NASA_TF","BET_NGEE_PR","ARCTIC","BLD_Lopex","BEM_Lopex","C3_Lopex","C3C_Lopex","C3P_Lopex","C4_Lopex","C4C_Lopex","C4P_Lopex","SHD_Lopex","SHE_Lopex"],"range":[4,4,4.5,4,2,2,2,2,2,2,2,2,2,2]},
"legend":{"title":null,"orient":"none","legendX":606,"legendY":4,"symbolType":"stroke","symbolSize":1160,"labelFontSize":17.5,"labelColor":"#000","labelOffset":16,"rowPadding":0,"padding":3,"fillColor":"white","strokeColor":"#cccccc","cornerRadius":4,"labelLimit":300}}
}
}
